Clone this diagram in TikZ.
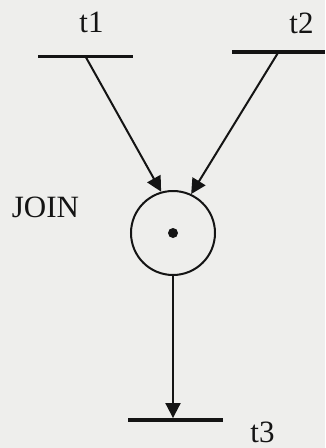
\documentclass[tikz,border=0pt]{standalone}
\usepackage{fontspec}
\setmainfont{Liberation Serif}
\usepackage{tikz}
\usetikzlibrary{arrows.meta,positioning,calc}
\usepackage{xcolor}
\definecolor{ink}{RGB}{20,20,20}
\definecolor{paper}{RGB}{238,238,236}
\tikzset{
  tbar/.style={fill=ink,inner sep=0pt,minimum width=95pt,minimum height=3.5pt},
  place/.style={circle,draw=ink,line width=2pt,minimum size=84pt,inner sep=0pt},
  tok/.style={circle,fill=ink,minimum size=10pt,inner sep=0pt},
  ar/.style={draw=ink,line width=2pt,-{Triangle[length=15pt,width=15pt]}},
  lbl/.style={font=\fontsize{31}{36}\selectfont,text=ink,inner sep=0pt},
}

\begin{document}
\begin{tikzpicture}[x=1pt,y=-1pt]
  \fill[paper] (0,0) rectangle (325,448);
  \useasboundingbox (0,0) rectangle (325,448);
  % transitions
  \node[tbar] (t1) at (85.5,56.5) {};
  \node[tbar,minimum width=93pt] (t2) at (278.5,52) {};
  \node[tbar] (t3) at (175.5,420) {};
  \node[lbl] (t1l) at (91.5,22.5) {t1};
  \node[lbl] (t2l) at (301.5,23) {t2};
  \node[lbl] (t3l) at (262.5,432.5) {t3};
  % the place with its token
  \node[place] (pl) at (173,233) {};
  \node[tok] (tk) at (pl.center) {};
  \node[lbl] (join) at (45.5,207.5) {JOIN};
  \draw[ar] (t1.center) -- (pl.106);
  \draw[ar] (t2.center) -- (pl.65);
  \draw[ar] (pl.south) -- (pl.south |- t3.north);
\end{tikzpicture}
\end{document}
